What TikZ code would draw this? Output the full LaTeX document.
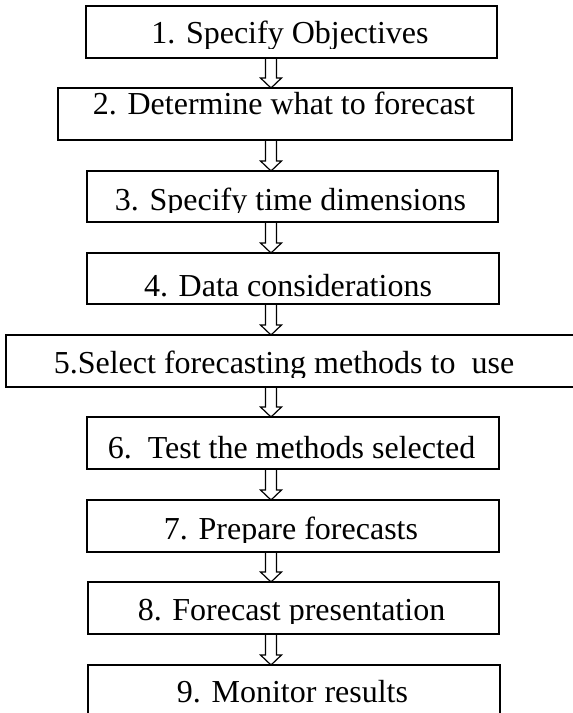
\documentclass[tikz,border=0pt]{standalone}
\usepackage{fontspec}
\setmainfont{Liberation Serif}
\usetikzlibrary{calc}
\tikzset{
  boxnode/.style={draw, line width=1.7pt, inner sep=0pt, outer sep=0pt, anchor=north west},
  txt/.style={font=\fontsize{32}{38}\selectfont, inner sep=0pt, anchor=base},
  harrow/.style={draw, line width=1.2pt, line join=miter},
}
\newcommand\mkbox[5]{%
  \node[boxnode, minimum width={(#4-#2)*1pt}, minimum height={(#5-#3)*1pt}] (#1) at (#2,#3) {};}
\newcommand\flowarrow[2]{%
  \path (#1.south -| ax) coordinate (p) (#2.north -| ax) coordinate (q);
  \draw[harrow] ($(p)+(-5.5,0)$) -- ($(q)+(-5.5,-10)$) -- ($(q)+(-10.5,-10)$) -- (q)
     -- ($(q)+(10.5,-10)$) -- ($(q)+(5.5,-10)$) -- ($(p)+(5.5,0)$) -- cycle;}
\begin{document}
\begin{tikzpicture}[x=1pt,y=-1pt]
\useasboundingbox (0,0) rectangle (573,713);
\coordinate (ax) at (271,0);
% boxes
\mkbox{b1}{86}{6}{497}{58}
\mkbox{b2}{58}{88}{512}{140}
\mkbox{b3}{87}{171}{498}{222}
\mkbox{b4}{87}{253}{499}{304}
\mkbox{b5}{6}{335}{640}{387}
\mkbox{b6}{87}{417}{499}{469}
\mkbox{b7}{87}{500}{499}{552}
\mkbox{b8}{88}{582}{499}{634}
\mkbox{b9}{88}{665}{500}{760}
% texts
\begin{scope}\clip (0,0) rectangle (573,48);
\node[txt] (t1) at (290,43.5) {1. Specify Objectives};
\end{scope}
\node[txt] (t2) at (284,114) {2. Determine what to forecast};
\begin{scope}\clip (0,171) rectangle (573,212);
\node[txt] (t3) at (290.5,210) {3. Specify time dimensions};
\end{scope}
\node[txt] (t4) at (288,296) {4. Data considerations};
\begin{scope}\clip (0,335) rectangle (573,377);
\node[txt] (t5) at (284,373) {5.Select forecasting methods to\ \ use};
\end{scope}
\node[txt] (t6) at (291.5,458) {6.\ \ Test the methods selected};
\begin{scope}\clip (0,500) rectangle (573,542);
\node[txt] (t7) at (291,539) {7. Prepare forecasts};
\end{scope}
\begin{scope}\clip (0,582) rectangle (573,623.5);
\node[txt] (t8) at (291.5,620.5) {8. Forecast presentation};
\end{scope}
\node[txt] (t9) at (292.5,702) {9. Monitor results};
% arrows
\flowarrow{b1}{b2}
\flowarrow{b2}{b3}
\flowarrow{b3}{b4}
\flowarrow{b4}{b5}
\flowarrow{b5}{b6}
\flowarrow{b6}{b7}
\flowarrow{b7}{b8}
\flowarrow{b8}{b9}
\end{tikzpicture}
\end{document}
